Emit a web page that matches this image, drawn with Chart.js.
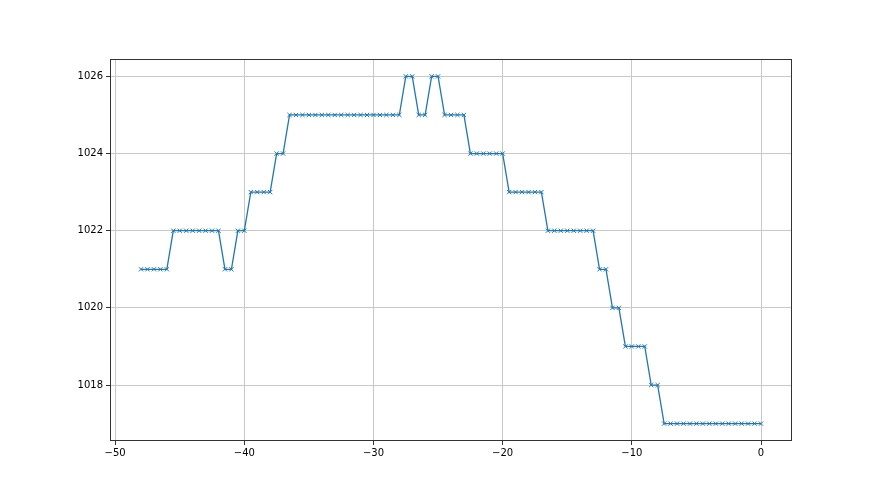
<!DOCTYPE html>
<html>
<head>
<meta charset="utf-8">
<script src="https://cdn.jsdelivr.net/npm/chart.js@4.4.0/dist/chart.umd.min.js"></script>
<style>
  html, body { margin: 0; padding: 0; background: #fff; }
  canvas { display: block; }
</style>
</head>
<body>
<canvas id="pressureChart" width="880" height="495"></canvas>
<script>
// x positions (hours), step of half an hour
const xValues = [];
for (let i = 0; i <= 96; i++) xValues.push(-48 + i * 0.5);

// pressure readings
const pressure = [
    1021, 1021, 1021, 1021, 1021,
    1022, 1022, 1022, 1022, 1022, 1022, 1022, 1022,
    1021, 1021,
    1022, 1022,
    1023, 1023, 1023, 1023,
    1024, 1024,
    1025, 1025, 1025, 1025, 1025, 1025, 1025, 1025, 1025,
    1025, 1025, 1025, 1025, 1025, 1025, 1025, 1025, 1025,
    1026, 1026,
    1025, 1025,
    1026, 1026,
    1025, 1025, 1025, 1025,
    1024, 1024, 1024, 1024, 1024, 1024,
    1023, 1023, 1023, 1023, 1023, 1023,
    1022, 1022, 1022, 1022, 1022, 1022, 1022, 1022,
    1021, 1021,
    1020, 1020,
    1019, 1019, 1019, 1019,
    1018, 1018,
    1017, 1017, 1017, 1017, 1017, 1017, 1017, 1017,
    1017, 1017, 1017, 1017, 1017, 1017, 1017, 1017
];

const xTicks = [-50, -40, -30, -20, -10, 0];
const yTicks = [1018, 1020, 1022, 1024, 1026];

const points = xValues.map((x, i) => ({ x: x, y: pressure[i] }));

// matplotlib style labels: real minus sign, no thousands separator
const fmt = v => String(v).replace('-', '\u2212');

// draw the four spines like matplotlib
const frame = {
    id: 'frame',
    afterDraw(chart) {
        const a = chart.chartArea;
        const ctx = chart.ctx;
        ctx.save();
        ctx.strokeStyle = '#333';
        ctx.lineWidth = 1;
        ctx.strokeRect(a.left + 0.5, a.top + 0.5, a.right - a.left - 1, a.bottom - a.top - 1);
        ctx.restore();
    }
};

new Chart(document.getElementById('pressureChart'), {
    type: 'line',
    data: {
        datasets: [{
            data: points,
            borderColor: '#1f77b4',
            borderWidth: 1.3,
            pointStyle: 'crossRot',
            pointRadius: 3,
            pointBorderWidth: 1,
            pointBorderColor: '#1f77b4',
            pointHoverRadius: 3,
            tension: 0,
            fill: false
        }]
    },
    options: {
        responsive: false,
        animation: false,
        layout: { padding: { left: 0, top: 59, right: 88, bottom: 0 } },
        plugins: {
            legend: { display: false },
            tooltip: { enabled: false }
        },
        scales: {
            x: {
                type: 'linear',
                min: -50.4,
                max: 2.4,
                afterBuildTicks: s => { s.ticks = xTicks.map(v => ({ value: v })); },
                afterFit: s => { s.height = 54; },
                grid: { color: '#c8c8c8', lineWidth: 1, tickColor: '#333', tickLength: 4 },
                border: { display: false },
                ticks: { color: '#000', padding: 2, font: { family: 'DejaVu Sans', size: 10 }, callback: fmt }
            },
            y: {
                type: 'linear',
                min: 1016.55,
                max: 1026.45,
                afterBuildTicks: s => { s.ticks = yTicks.map(v => ({ value: v })); },
                afterFit: s => { s.width = 110; },
                grid: { color: '#c8c8c8', lineWidth: 1, tickColor: '#333', tickLength: 4 },
                border: { display: false },
                ticks: { color: '#000', padding: 3, font: { family: 'DejaVu Sans', size: 10 }, callback: fmt }
            }
        }
    },
    plugins: [frame]
});
</script>
</body>
</html>
